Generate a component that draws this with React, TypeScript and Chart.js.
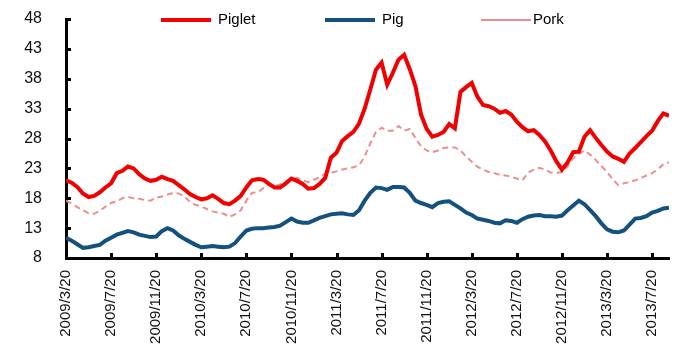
import React, { useEffect, useRef } from "react";
import { Chart, registerables } from "chart.js";

Chart.register(...registerables);

// x axis: half-month steps starting 2009/3/20
const tickLabels = [
  "2009/3/20", "2009/7/20", "2009/11/20", "2010/3/20", "2010/7/20", "2010/11/20",
  "2011/3/20", "2011/7/20", "2011/11/20", "2012/3/20", "2012/7/20", "2012/11/20",
  "2013/3/20", "2013/7/20",
];
const monthsPerTick = 4;
const monthsPerPoint = 0.5;
const yTicks = [8, 13, 18, 23, 28, 33, 38, 43, 48];

const seriesNames = ["Piglet", "Pig", "Pork"];

const piglet = [
  21.0, 20.6, 19.9, 18.8, 18.2, 18.4, 19.0, 19.8, 20.5, 22.2,
  22.6, 23.3, 23.0, 22.0, 21.3, 20.9, 21.1, 21.6, 21.2, 20.9,
  20.2, 19.5, 18.7, 18.2, 17.8, 18.0, 18.5, 17.9, 17.2, 17.0,
  17.6, 18.4, 19.8, 21.0, 21.2, 21.1, 20.4, 19.8, 19.8, 20.5,
  21.3, 20.9, 20.4, 19.6, 19.7, 20.4, 21.4, 24.8, 25.6, 27.6,
  28.4, 29.1, 30.5, 33.0, 36.2, 39.5, 40.7, 37.0, 39.0, 41.2,
  42.0, 39.6, 36.8, 32.0, 29.6, 28.3, 28.6, 29.1, 30.4, 29.7,
  35.8, 36.6, 37.3, 35.0, 33.6, 33.4, 33.0, 32.3, 32.6, 32.0,
  30.8, 29.9, 29.2, 29.4, 28.6, 27.5, 26.0, 24.2, 22.8, 24.0,
  25.7, 25.8, 28.3, 29.4, 28.1, 26.9, 25.8, 25.0, 24.6, 24.1,
  25.5, 26.4, 27.4, 28.4, 29.3, 30.9, 32.2, 31.8,
];

const pig = [
  11.4, 10.9, 10.3, 9.7, 9.8, 10.0, 10.2, 10.9, 11.4, 11.9,
  12.2, 12.5, 12.3, 11.9, 11.7, 11.5, 11.6, 12.5, 13.0, 12.6,
  11.8, 11.2, 10.7, 10.2, 9.8, 9.9, 10.0, 9.9, 9.8, 9.9,
  10.5, 11.6, 12.6, 12.9, 13.0, 13.0, 13.1, 13.2, 13.4, 14.0,
  14.6, 14.1, 13.9, 13.9, 14.3, 14.7, 15.0, 15.3, 15.4, 15.5,
  15.3, 15.2, 16.0, 17.6, 18.9, 19.8, 19.7, 19.4, 19.9, 19.9,
  19.8, 18.9, 17.6, 17.2, 16.9, 16.5, 17.2, 17.4, 17.5, 16.9,
  16.3, 15.6, 15.2, 14.6, 14.4, 14.2, 13.9, 13.8, 14.3, 14.2,
  13.9, 14.5, 14.9, 15.1, 15.2, 15.0, 15.0, 14.9, 15.1, 16.0,
  16.8, 17.6, 17.0, 16.0, 15.0, 13.8, 12.8, 12.4, 12.3, 12.6,
  13.6, 14.6, 14.7, 15.0, 15.6, 15.9, 16.3, 16.4,
];

const pork = [
  17.6, 17.1, 16.5, 16.0, 15.5, 15.4, 15.9, 16.6, 17.2, 17.5,
  18.0, 18.2, 18.0, 17.9, 17.7, 17.6, 18.1, 18.3, 18.6, 18.9,
  18.8, 18.3, 17.4, 16.9, 16.6, 16.2, 15.8, 15.6, 15.4, 14.9,
  15.3, 16.0, 17.6, 18.9, 19.0, 19.7, 20.4, 20.0, 20.3, 20.8,
  21.0, 21.4, 21.0, 20.7, 21.1, 21.5, 22.1, 22.3, 22.5, 22.8,
  23.0, 23.2, 23.5, 25.0, 27.2, 29.1, 29.8, 29.3, 29.3, 30.1,
  29.3, 29.6, 28.1, 26.7, 26.0, 25.7, 26.0, 26.4, 26.5, 26.5,
  26.0, 25.0, 24.1, 23.3, 22.8, 22.4, 22.2, 21.9, 21.8, 21.6,
  21.3, 21.0, 22.3, 22.8, 23.1, 22.8, 22.3, 22.2, 22.4, 23.3,
  24.7, 25.4, 26.0, 25.3, 24.4, 23.4, 22.4, 21.2, 20.2, 20.5,
  20.7, 21.0, 21.4, 21.8, 22.2, 22.8, 23.7, 24.0,
];

const colors = ["#F00000", "#14517C", "#EB8E8E"];
const widths = [4, 4, 2];

const toPoints = (arr: number[]) => arr.map((y, i) => ({ x: i * monthsPerPoint, y }));

const FONT = '"Liberation Sans", Arial, sans-serif';

const innerTicks = {
  id: "innerTicks",
  afterDraw(chart: any) {
    const { ctx, chartArea, scales } = chart;
    ctx.save();
    ctx.strokeStyle = "#000";
    ctx.lineWidth = 3;
    scales.y.ticks.forEach((t: any) => {
      const py = Math.round(scales.y.getPixelForValue(t.value)) + 0.5;
      ctx.beginPath();
      ctx.moveTo(chartArea.left, py);
      ctx.lineTo(chartArea.left + 5, py);
      ctx.stroke();
    });
    scales.x.ticks.forEach((t: any) => {
      const px = Math.round(scales.x.getPixelForValue(t.value)) + 0.5;
      ctx.beginPath();
      ctx.moveTo(px, chartArea.bottom);
      ctx.lineTo(px, chartArea.bottom - 5);
      ctx.stroke();
    });
    ctx.restore();
  },
};

const lineLegend = {
  id: "lineLegend",
  afterDraw(chart: any) {
    const { ctx, chartArea } = chart;
    const offsets = [95, 259, 415];
    const gaps = [7, 7, 2];
    const lineLen = 50;
    const y = chartArea.top + 1;
    ctx.save();
    ctx.font = `15px ${FONT}`;
    ctx.textBaseline = "middle";
    ctx.textAlign = "left";
    chart.data.datasets.forEach((ds: any, i: number) => {
      const x0 = chartArea.left + offsets[i];
      ctx.setLineDash([]);
      ctx.strokeStyle = ds.borderColor;
      ctx.lineWidth = widths[i];
      ctx.beginPath();
      ctx.moveTo(x0, y);
      ctx.lineTo(x0 + lineLen, y);
      ctx.stroke();
      ctx.fillStyle = "#000";
      ctx.fillText(ds.label, x0 + lineLen + gaps[i], y);
    });
    ctx.restore();
  },
};

export default function App() {
  const ref = useRef<HTMLCanvasElement | null>(null);

  useEffect(() => {
    if (!ref.current) return;
    const series = [piglet, pig, pork];
    const chart = new Chart(ref.current, {
      type: "line",
      data: {
        datasets: series.map((s, i) => ({
          label: seriesNames[i],
          data: toPoints(s),
          borderColor: colors[i],
          backgroundColor: colors[i],
          borderWidth: widths[i],
          borderDash: i === 2 ? [6, 4] : [],
          pointRadius: 0,
          tension: 0,
          fill: false,
        })),
      },
      options: {
        animation: false,
        responsive: false,
        layout: { padding: { top: 19, right: 26, left: 0, bottom: 0 } },
        plugins: {
          legend: { display: false },
          tooltip: { enabled: false },
        },
        scales: {
          x: {
            type: "linear",
            min: 0,
            max: 53.5,
            afterBuildTicks: (scale: any) => {
              scale.ticks = tickLabels.map((_, i) => ({ value: i * monthsPerTick }));
            },
            afterFit: (scale: any) => {
              scale.height = 101;
              scale.paddingLeft = 0;
              scale.paddingRight = 0;
            },
            grid: { display: true, drawOnChartArea: false, drawTicks: false },
            border: { display: true, color: "#000", width: 3 },
            ticks: {
              autoSkip: false,
              minRotation: 90,
              maxRotation: 90,
              padding: 12,
              color: "#111",
              font: { family: FONT, size: 15 },
              callback: (_v: any, idx: number) => tickLabels[idx],
            },
          },
          y: {
            type: "linear",
            min: 8,
            max: 48,
            afterBuildTicks: (scale: any) => {
              scale.ticks = yTicks.map((v) => ({ value: v }));
            },
            afterFit: (scale: any) => {
              scale.width = 66;
              scale.paddingTop = 10;
              scale.paddingBottom = 10;
            },
            grid: { display: true, drawOnChartArea: false, drawTicks: false },
            border: { display: true, color: "#000", width: 3 },
            ticks: {
              padding: 24,
              color: "#111",
              font: { family: FONT, size: 16 },
              callback: (v: any) => String(v),
            },
          },
        },
      },
      plugins: [innerTicks, lineLegend],
    });
    return () => chart.destroy();
  }, []);

  return (
    <div style={{ position: "absolute", left: 0, top: 0, width: 695, height: 359, background: "#fff" }}>
      <canvas ref={ref} width={695} height={359} style={{ width: 695, height: 359, display: "block" }} />
    </div>
  );
}
